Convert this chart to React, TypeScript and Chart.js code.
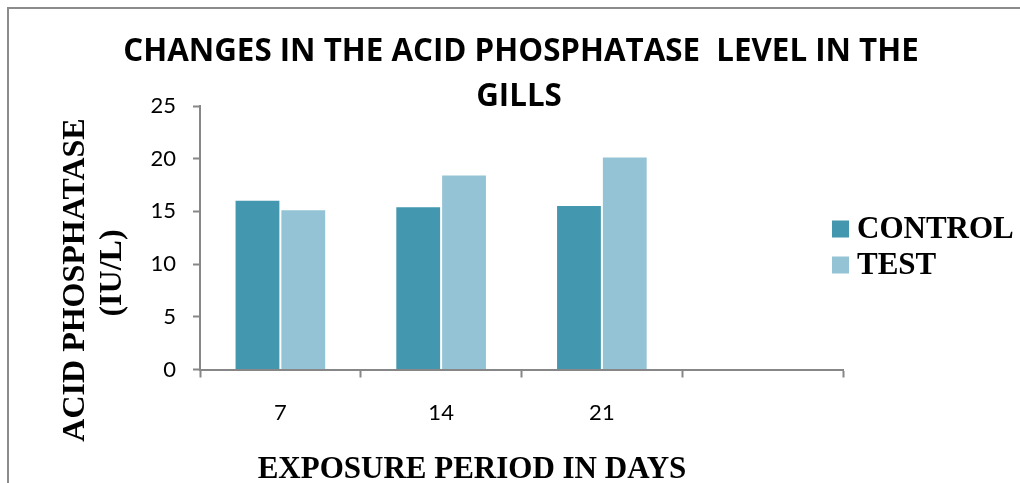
import { useEffect, useRef } from 'react';
import { Chart, registerables } from 'chart.js';

Chart.register(...registerables);

const categories = ['7', '14', '21', ''];
const controlValues = [16.1, 15.5, 15.6, null];
const testValues = [15.2, 18.5, 20.2, null];
const seriesNames = ['CONTROL', 'TEST'];
const seriesColors = ['#4397AE', '#93C3D4'];
const yMin = 0;
const yMax = 25;
const yStep = 5;
const titleLines = ['CHANGES IN THE ACID PHOSPHATASE  LEVEL IN THE', 'GILLS'];
const yTitleLines = ['ACID PHOSPHATASE', '(IU/L)'];
const xTitle = 'EXPOSURE PERIOD IN DAYS';

const AXIS = '#878787';
const SERIF = '"Liberation Serif", "Times New Roman", serif';
const SANS = 'Lato, "Open Sans", sans-serif';
const TITLE_SANS = '"Open Sans", Lato, sans-serif';

const decor = {
  id: 'decor',
  beforeDraw(chart: any) {
    const ctx = chart.ctx;
    ctx.save();
    ctx.strokeStyle = '#8c8c8c';
    ctx.lineWidth = 2;
    ctx.beginPath();
    ctx.moveTo(8, 1200);
    ctx.lineTo(8, 8);
    ctx.lineTo(1200, 8);
    ctx.stroke();
    ctx.restore();
  },
  afterDraw(chart: any) {
    const ctx = chart.ctx;
    ctx.save();
    ctx.fillStyle = '#000';
    ctx.textAlign = 'center';
    ctx.textBaseline = 'middle';

    // chart title
    ctx.font = `bold 31.3px ${TITLE_SANS}`;
    ctx.fillText(titleLines[0], 521, 52);
    ctx.fillText(titleLines[1], 519, 97);

    // axis titles
    ctx.font = `bold 31px ${SERIF}`;
    ctx.fillText(xTitle, 472, 470);

    ctx.save();
    ctx.translate(76, 280);
    ctx.rotate(-Math.PI / 2);
    ctx.font = `bold 32px ${SERIF}`;
    ctx.fillText(yTitleLines[0], 0, 0);
    ctx.restore();

    ctx.save();
    ctx.translate(113, 273);
    ctx.rotate(-Math.PI / 2);
    ctx.font = `bold 32px ${SERIF}`;
    ctx.fillText(yTitleLines[1], 0, 0);
    ctx.restore();

    // legend
    ctx.font = `bold 31px ${SERIF}`;
    chart.data.datasets.forEach((ds: any, i: number) => {
      const y = 229 + i * 36;
      ctx.fillStyle = ds.backgroundColor;
      ctx.fillRect(832, y - 8.5, 17, 17);
      ctx.fillStyle = '#000';
      ctx.textAlign = 'left';
      ctx.fillText(ds.label, 857, y + 1);
    });
    ctx.restore();
  },
};

export default function App() {
  const ref = useRef<HTMLCanvasElement | null>(null);

  useEffect(() => {
    if (!ref.current) return;
    const chart = new Chart(ref.current, {
      type: 'bar',
      data: {
        labels: categories,
        datasets: [
          {
            label: seriesNames[0],
            data: controlValues,
            backgroundColor: seriesColors[0],
            borderColor: 'rgba(255,255,255,0.45)',
            borderWidth: 1,
            categoryPercentage: 0.57,
            barPercentage: 1,
          },
          {
            label: seriesNames[1],
            data: testValues,
            backgroundColor: seriesColors[1],
            borderColor: 'rgba(255,255,255,0.45)',
            borderWidth: 1,
            categoryPercentage: 0.57,
            barPercentage: 1,
          },
        ],
      },
      options: {
        responsive: false,
        animation: false,
        devicePixelRatio: 1,
        layout: { padding: { left: 2, right: 177, top: 106, bottom: 0 } },
        plugins: {
          legend: { display: false },
          tooltip: { enabled: false },
          title: { display: false },
        },
        scales: {
          x: {
            offset: true,
            afterFit: (s: any) => {
              s.height = 113.5;
            },
            grid: {
              display: true,
              offset: true,
              drawOnChartArea: false,
              drawTicks: true,
              tickLength: 8,
              tickColor: AXIS,
              tickWidth: 2,
            },
            border: { display: true, color: AXIS, width: 2 },
            ticks: {
              color: '#000',
              font: { family: SANS, size: 22 },
              padding: 22,
              maxRotation: 0,
            },
          },
          y: {
            min: yMin,
            max: yMax,
            afterFit: (s: any) => {
              s.width = 198;
            },
            ticks: {
              stepSize: yStep,
              color: '#000',
              font: { family: SANS, size: 22 },
              padding: 17,
            },
            grid: {
              display: true,
              drawOnChartArea: false,
              drawTicks: true,
              tickLength: 7,
              tickColor: AXIS,
              tickWidth: 2,
            },
            border: { display: true, color: AXIS, width: 2 },
          },
        },
      },
      plugins: [decor],
    } as any);
    return () => chart.destroy();
  }, []);

  return (
    <div style={{ position: 'absolute', left: 0, top: 0, width: 1020, height: 483, background: '#fff' }}>
      <canvas ref={ref} width={1020} height={483} style={{ display: 'block' }} />
    </div>
  );
}
